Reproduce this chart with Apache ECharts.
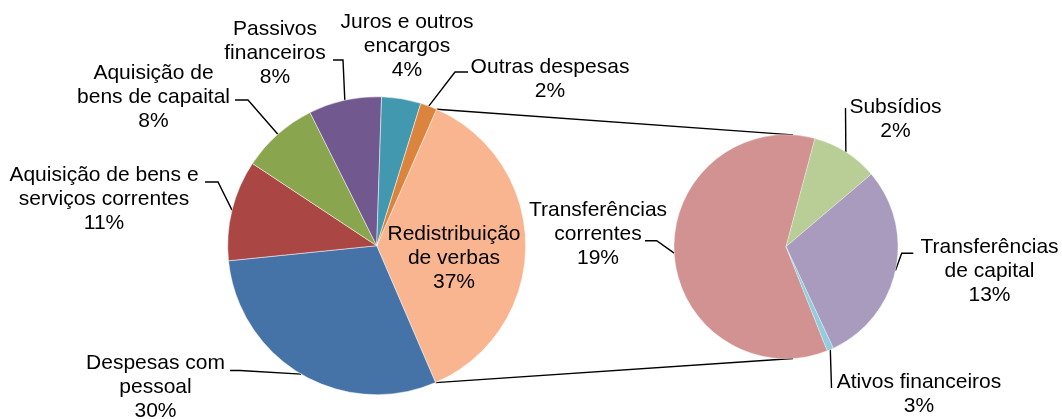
<!DOCTYPE html>
<html>
<head>
<meta charset="utf-8">
<style>
  html, body { margin: 0; padding: 0; background: #fff; }
  #chart { width: 1062px; height: 419px; }
</style>
<script src="https://cdn.jsdelivr.net/npm/echarts@6/dist/echarts.min.js"></script>
</head>
<body>
<div id="chart"></div>
<script>
  // pizza principal (% do total)
  var mainNames = ['Redistribuição de verbas', 'Despesas com pessoal', 'Aquisição de bens e serviços correntes',
    'Aquisição de bens de capaital', 'Passivos financeiros', 'Juros e outros encargos', 'Outras despesas'];
  var mainValues = [36.9, 29.8, 10.9, 8.3, 7.9, 4.25, 1.8];
  var mainPct = ['37%', '30%', '11%', '8%', '8%', '4%', '2%'];
  var mainText = ['Redistribuição\nde verbas', 'Despesas com\npessoal', 'Aquisição de bens e\nserviços correntes',
    'Aquisição de\nbens de capaital', 'Passivos\nfinanceiros', 'Juros e outros\nencargos', 'Outras despesas'];

  // pizza secundária (detalhe de Redistribuição de verbas)
  var subNames = ['Transferências correntes', 'Subsídios', 'Transferências de capital', 'Ativos financeiros'];
  var subValues = [22.2, 3.55, 10.8, 0.35];
  var subPct = ['19%', '2%', '13%', '3%'];
  var subText = ['Transferências\ncorrentes', 'Subsídios', 'Transferências\nde capital', 'Ativos financeiros'];

  var mainColors = ['#F9B590', '#4572A7', '#AA4643', '#89A54E', '#71588F', '#4198AF', '#DB843D'];
  var subColors = ['#D29291', '#B9CD96', '#A99BBD', '#93CDDD'];

  // layout
  var mainCenter = [376.7, 245.7], mainR = 149;
  var subCenter = [786, 246.7], subR = 112;
  var mainStart = 23.7;   // graus a partir do topo, sentido horário
  var subStart = 158.4;
  var subJoin = 3.6;

  var mainLabelPos = [[454, 258], [155.5, 387.5], [104, 199], [153.5, 97.5], [275, 53.5], [407, 46], [550, 79.5]];
  var mainLineEnd = [null, [[240, 370.5], [230, 370.5]], [[218, 182], [205, 182]], [[248, 100], [235, 100]],
    [[343, 60], [333, 60]], null, [[455, 72], [468, 72]]];
  var subLabelPos = [[598, 234], [895.5, 119], [989.5, 271], [919, 394]];
  var subLineEnd = [[[656.7, 240.7], [645, 240.7]], [[845.5, 108]], [[901.7, 253.3], [913.3, 253.3]], [[831.5, 388]]];

  var font = 'Arial, "Liberation Sans", sans-serif';

  function pt(c, r, deg) {
    var a = deg * Math.PI / 180;
    return [c[0] + r * Math.sin(a), c[1] - r * Math.cos(a)];
  }

  function buildData(names, values, colors, lineEnd) {
    return names.map(function (n, i) {
      return {
        name: n,
        value: values[i],
        itemStyle: { color: colors[i] },
        labelLine: { show: lineEnd[i] != null }
      };
    });
  }

  function makeLayout(pos, lineEnd) {
    return function (params) {
      var i = params.dataIndex;
      var res = { x: pos[i][0], y: pos[i][1], align: 'center', verticalAlign: 'middle' };
      if (lineEnd[i] && params.labelLinePoints) {
        res.labelLinePoints = [params.labelLinePoints[0]].concat(lineEnd[i]);
      }
      return res;
    };
  }

  var total = mainValues.reduce(function (a, b) { return a + b; }, 0);
  var splitEnd = mainStart + mainValues[0] / total * 360;
  var a1 = pt(mainCenter, mainR, mainStart), a2 = pt(mainCenter, mainR, splitEnd);
  var b1 = pt(subCenter, subR, subJoin), b2 = pt(subCenter, subR, 180 - subJoin);

  var labelStyle = {
    color: '#000',
    fontFamily: font,
    fontSize: 21,
    lineHeight: 24,
    overflow: 'none'
  };
  var lineStyle = { color: '#000', width: 1.4 };

  var myChart = echarts.init(document.getElementById('chart'));
  var option = {
    backgroundColor: '#fff',
    animation: false,
    graphic: [
      { type: 'line', z: 0, shape: { x1: a1[0], y1: a1[1], x2: b1[0], y2: b1[1] }, style: { stroke: '#000', lineWidth: 1.4 } },
      { type: 'line', z: 0, shape: { x1: a2[0], y1: a2[1], x2: b2[0], y2: b2[1] }, style: { stroke: '#000', lineWidth: 1.4 } }
    ],
    series: [{
      name: 'principal',
      type: 'pie',
      center: mainCenter,
      radius: mainR,
      startAngle: 90 - mainStart,
      clockwise: true,
      avoidLabelOverlap: false,
      itemStyle: { borderColor: '#fff', borderWidth: 0.5 },
      label: Object.assign({
        formatter: function (p) { return mainText[p.dataIndex] + '\n' + mainPct[p.dataIndex]; }
      }, labelStyle),
      labelLine: { lineStyle: lineStyle, smooth: false },
      labelLayout: makeLayout(mainLabelPos, mainLineEnd),
      emphasis: { disabled: true },
      data: buildData(mainNames, mainValues, mainColors, mainLineEnd)
    }, {
      name: 'secundária',
      type: 'pie',
      center: subCenter,
      radius: subR,
      startAngle: 90 - subStart,
      clockwise: true,
      avoidLabelOverlap: false,
      itemStyle: { borderColor: '#fff', borderWidth: 0.3 },
      label: Object.assign({
        formatter: function (p) { return subText[p.dataIndex] + '\n' + subPct[p.dataIndex]; }
      }, labelStyle),
      labelLine: { lineStyle: lineStyle, smooth: false },
      labelLayout: makeLayout(subLabelPos, subLineEnd),
      emphasis: { disabled: true },
      data: buildData(subNames, subValues, subColors, subLineEnd)
    }]
  };
  myChart.setOption(option);
</script>
</body>
</html>
